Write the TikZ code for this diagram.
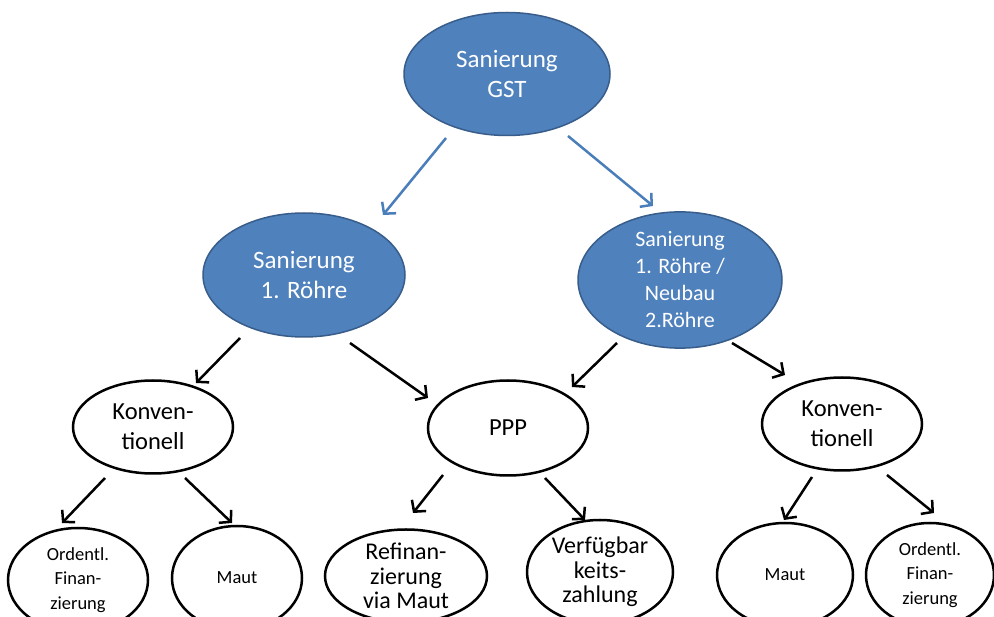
\documentclass[tikz,border=0pt]{standalone}
\usepackage{fontspec}
\setmainfont{Carlito}
\usetikzlibrary{shapes.geometric,arrows.meta,calc}
\definecolor{bfill}{HTML}{4F81BD}
\definecolor{bdraw}{HTML}{385D8A}
\definecolor{barrow}{HTML}{4A7EBB}
\begin{document}
\begin{tikzpicture}[x=1pt,y=-1pt,
  bluenode/.style={ellipse, fill=bfill, draw=bdraw, line width=1.5pt, text=white, inner sep=0pt, align=center},
  whitenode/.style={ellipse, draw=black, fill=white, line width=2.5pt, inner sep=0pt, align=center},
  bigtxt/.style={font=\fontsize{25}{30}\selectfont},
  midtxt/.style={font=\fontsize{22}{27}\selectfont},
  konvtxt/.style={font=\fontsize{24.5}{30}\selectfont},
  lowtxt/.style={font=\fontsize{24}{24.5}\selectfont},
  smalltxt/.style={font=\fontsize{18.5}{24.5}\selectfont},
  blueconn/.style={draw=barrow, line width=2.5pt, -{Straight Barb[length=8pt,width=18pt]}},
  blackconn/.style={draw=black, line width=2.5pt, -{Straight Barb[length=8pt,width=18pt]}}
]
\useasboundingbox (0,0) rectangle (994,617);
\clip (0,0) rectangle (994,617);
\fill[white] (0,0) rectangle (994,617);

% level 0
\node[bluenode, bigtxt, minimum width=206pt, minimum height=123pt] (gst) at (507,74) {Sanierung\\GST};
% level 1
\node[bluenode, bigtxt, minimum width=202pt, minimum height=124pt] (s1r) at (304,275) {Sanierung\\1. Röhre};
\node[bluenode, midtxt, minimum width=204pt, minimum height=116pt] (sneu) at (680,280) {Sanierung\\1. Röhre /\\Neubau\\2.Röhre};
% level 2
\node[whitenode, konvtxt, minimum width=160pt, minimum height=93pt] (konvL) at (153,427) {Konven-\\tionell};
\node[whitenode, konvtxt, minimum width=160pt, minimum height=95pt] (ppp) at (508,428) {PPP};
\node[whitenode, konvtxt, minimum width=160pt, minimum height=93pt] (konvR) at (842,424) {Konven-\\tionell};
% level 3
\node[whitenode, smalltxt, minimum width=140pt, minimum height=104pt] (ordL) at (78,580) {Ordentl.\\Finan-\\zierung};
\node[whitenode, smalltxt, minimum width=130pt, minimum height=104pt] (mautL) at (237,578) {Maut};
\node[whitenode, lowtxt, minimum width=162pt, minimum height=88pt] (refin) at (406,576) {Refinan-\\zierung\\via Maut};
\node[whitenode, lowtxt, minimum width=146pt, minimum height=104pt] (verf) at (600,572) {Verfügbar\\keits-\\zahlung};
\node[whitenode, smalltxt, minimum width=136pt, minimum height=104pt] (mautR) at (785,575) {Maut};
\node[whitenode, smalltxt, minimum width=128pt, minimum height=104pt] (ordR) at (930,575) {Ordentl.\\Finan-\\zierung};

% connectors
\draw[blueconn] ($(gst)+(-61,64)$) -- ($(s1r)+(79,-60)$);
\draw[blueconn] ($(gst)+(61,62)$) -- ($(sneu)+(-27,-74)$);
\draw[blackconn] ($(s1r)+(-64,63)$) -- ($(konvL)+(43,-44)$);
\draw[blackconn] ($(s1r)+(46,68)$) -- ($(ppp)+(-80,-30)$);
\draw[blackconn] ($(sneu)+(-63,63)$) -- ($(ppp)+(64,-41)$);
\draw[blackconn] ($(sneu)+(52,63)$) -- ($(konvR)+(-57,-49)$);
\draw[blackconn] ($(konvL)+(-48,51)$) -- ($(ordL)+(-16,-57)$);
\draw[blackconn] ($(konvL)+(32,51)$) -- ($(mautL)+(-5,-55)$);
\draw[blackconn] ($(ppp)+(-65,47)$) -- ($(refin)+(7,-63)$);
\draw[blackconn] ($(ppp)+(37,50)$) -- ($(verf)+(-15,-52)$);
\draw[blackconn] ($(konvR)+(-30,53)$) -- ($(mautR)+(-1,-55)$);
\draw[blackconn] ($(konvR)+(45,51)$) -- ($(ordR)+(4,-62)$);
\end{tikzpicture}
\end{document}
